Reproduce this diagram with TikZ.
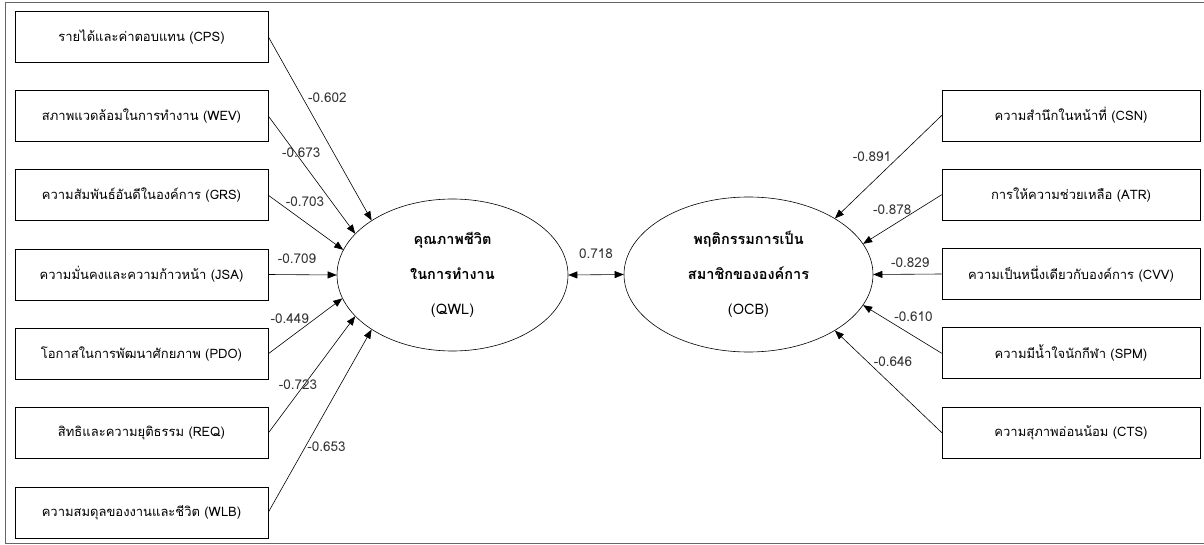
\documentclass[tikz,border=0pt]{standalone}
\usepackage{fontspec}
\setmainfont[Script=Thai]{Loma}
\usepackage{tikz}
\usetikzlibrary{matrix,arrows.meta}
\usetikzlibrary{shapes.geometric}

\tikzset{
	ind/.style={draw, minimum width=253pt, minimum height=51pt, inner sep=0pt, font=\fontsize{13}{15}\selectfont},
	lat/.style={draw, ellipse, inner sep=0pt, align=center, font=\fontsize{14.5}{35}\selectfont},
	wt/.style={font=\fontsize{13.5}{15}\selectfont, inner sep=0pt, text=black!80}
}

\begin{document}
\begin{tikzpicture}[x=1pt, y=-1pt, line width=0.6pt, >={Triangle[length=9pt,width=7pt]}]
\useasboundingbox (0,0) rectangle (1204,545);
\draw[black!60, line width=1pt] (1204,3) -- (5,3) -- (5,543) -- (1204,543);

\matrix (lm) [matrix of nodes, row sep=27.67pt, nodes={ind}] at (141.5,274.5)
{
	รายได้และค่าตอบแทน (CPS) \\
	สภาพแวดล้อมในการทำงาน (WEV) \\
	ความสัมพันธ์อันดีในองค์การ (GRS) \\
	ความมั่นคงและความก้าวหน้า (JSA) \\
	โอกาสในการพัฒนาศักยภาพ (PDO) \\
	สิทธิและความยุติธรรม (REQ) \\
	ความสมดุลของงานและชีวิต (WLB) \\
};
\matrix (rm) [matrix of nodes, row sep=27.67pt, nodes={ind, minimum width=258pt}] at (1071,274)
{
	ความสำนึกในหน้าที่ (CSN) \\
	การให้ความช่วยเหลือ (ATR) \\
	ความเป็นหนึ่งเดียวกับองค์การ (CVV) \\
	ความมีน้ำใจนักกีฬา (SPM) \\
	ความสุภาพอ่อนน้อม (CTS) \\
};

\node (qwl) [lat, minimum width=231pt, minimum height=152pt] at (452.5,275)
	{\textbf{คุณภาพชีวิต}\\\textbf{ในการทำงาน}\\(QWL)};
\node (ocb) [lat, minimum width=249pt, minimum height=155pt] at (748.5,274.5)
	{\textbf{พฤติกรรมการเป็น}\\\textbf{สมาชิกขององค์การ}\\(OCB)};

\path[<->]
(qwl.east) edge node [wt, above=16pt] {0.718} (ocb.west);
\path[->]
(lm-1-1.east) edge node [wt, pos=0.33, xshift=25pt] {-0.602} (qwl.146)
(lm-2-1.east) edge node [wt, pos=0.31, xshift=6pt] {-0.673} (qwl.157)
(lm-3-1.east) edge node [wt, pos=0.49, yshift=20pt] {-0.703} (qwl.167)
(lm-4-1.east) edge node [wt, pos=0.42, yshift=16pt] {-0.709} (qwl.180)
(lm-5-1.east) edge node [wt, pos=0.29, yshift=19pt] {-0.449} (qwl.192)
(lm-6-1.east) edge node [wt, pos=0.41, xshift=-6pt] {-0.723} (qwl.203)
(lm-7-1.east) edge node [wt, pos=0.36, xshift=21pt] {-0.653} (qwl.214);
\path[->]
(rm-1-1.west) edge node [wt, pos=0.4, xshift=-27pt] {-0.891} (ocb.33)
(rm-2-1.west) edge node [wt, pos=0.63, yshift=16pt] {-0.878} (ocb.15)
(rm-3-1.west) edge node [wt, pos=0.46, yshift=12pt] {-0.829} (ocb.0)
(rm-4-1.west) edge node [wt, pos=0.36, yshift=19pt] {-0.610} (ocb.-15)
(rm-5-1.west) edge node [wt, pos=0.7, xshift=26pt] {-0.646} (ocb.-33);
\end{tikzpicture}
\end{document}
